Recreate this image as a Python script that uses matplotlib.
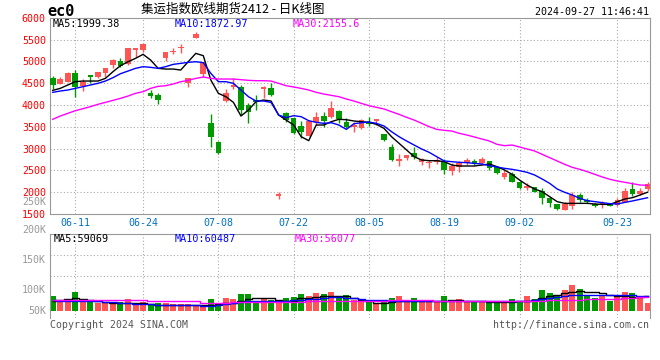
import matplotlib
matplotlib.use('Agg')
import matplotlib.pyplot as plt
import numpy as np

plt.rcParams['font.family'] = ['DejaVu Sans Mono', 'Noto Sans CJK SC']

# trading days shown, 06-05 .. 09-27
dates = ['06-05', '06-06', '06-07', '06-11', '06-12', '06-13', '06-14', '06-17', '06-18', '06-19',
         '06-20', '06-21', '06-24', '06-25', '06-26', '06-27', '06-28', '07-01', '07-02', '07-03',
         '07-04', '07-05', '07-08', '07-09', '07-10', '07-11', '07-12', '07-15', '07-16', '07-17',
         '07-18', '07-19', '07-22', '07-23', '07-24', '07-25', '07-26', '07-29', '07-30', '07-31',
         '08-01', '08-02', '08-05', '08-06', '08-07', '08-08', '08-09', '08-12', '08-13', '08-14',
         '08-15', '08-16', '08-19', '08-20', '08-21', '08-22', '08-23', '08-26', '08-27', '08-28',
         '08-29', '08-30', '09-02', '09-03', '09-04', '09-05', '09-06', '09-09', '09-10', '09-11',
         '09-12', '09-13', '09-18', '09-19', '09-20', '09-23', '09-24', '09-25', '09-26', '09-27']
date_ticks = ['06-11', '06-24', '07-08', '07-22', '08-05', '08-19', '09-02', '09-23']

opens = [4610, 4480, 4533, 4724, 4434, 4678, 4648, 4724, 4915, 5014,
         4930, 5267, 5251, 4274, 4228, 5083, 5205, 5305, 4510, 5542,
         4701, 3578, 3158, 4090, 4425, 4419, 3998, 4113, 4380, 4396,
         1930, 3807, 3693, 3517, 3296, 3616, 3754, 3731, 3869, 3601,
         3510, 3464, 3601, 3648, 3334, 3028, 2722, 2776, 2906, 2700,
         2670, 2710, 2700, 2493, 2585, 2661, 2715, 2661, 2715, 2570,
         2356, 2417, 2241, 2096, 2112, 2027, 1874, 1729, 1592, 1691,
         1936, 1821, 1712, 1738, 1712, 1706, 1783, 2066, 1959, 2066]
highs = [4663, 4640, 4747, 4801, 4587, 4678, 4747, 4839, 5045, 5068,
         5297, 5297, 5419, 4335, 4281, 5205, 5297, 5389, 4610, 5664,
         4992, 3792, 3180, 4365, 4610, 4457, 4037, 4228, 4442, 4495,
         2012, 3846, 3693, 3632, 3632, 3830, 3830, 4090, 3884, 3693,
         3601, 3670, 3731, 3670, 3334, 3097, 2868, 2852, 3028, 2791,
         2738, 2814, 2753, 2661, 2715, 2776, 2753, 2814, 2715, 2570,
         2509, 2470, 2264, 2203, 2127, 2089, 1882, 1729, 1783, 2012,
         1974, 1874, 1744, 1798, 1744, 1874, 2089, 2226, 2089, 2241]
lows = [4365, 4480, 4533, 4190, 4319, 4495, 4610, 4640, 4854, 4877,
        4915, 5106, 5221, 4166, 4014, 5014, 5160, 5198, 4419, 5526,
        4648, 3043, 2880, 4059, 4365, 3769, 3578, 3884, 4151, 4205,
        1844, 3616, 3326, 3234, 3296, 3540, 3502, 3693, 3578, 3464,
        3387, 3448, 3525, 3540, 3173, 2715, 2608, 2738, 2761, 2623,
        2562, 2646, 2417, 2394, 2470, 2623, 2623, 2623, 2509, 2417,
        2302, 2241, 2074, 2050, 1997, 1722, 1668, 1592, 1592, 1607,
        1783, 1744, 1668, 1645, 1683, 1691, 1783, 1920, 1936, 2035]
closes = [4457, 4587, 4724, 4419, 4533, 4640, 4747, 4839, 5022, 4892,
          5297, 5297, 5389, 4213, 4113, 5205, 5236, 5320, 4610, 5633,
          4992, 3272, 2891, 4266, 4440, 3884, 3846, 4075, 4396, 4228,
          1945, 3655, 3349, 3372, 3632, 3723, 3632, 3922, 3677, 3502,
          3525, 3655, 3555, 3660, 3196, 2738, 2761, 2852, 2814, 2753,
          2685, 2722, 2509, 2608, 2661, 2738, 2639, 2761, 2562, 2432,
          2447, 2241, 2089, 2142, 2012, 1859, 1744, 1607, 1729, 1936,
          1813, 1783, 1700, 1750, 1700, 1821, 2027, 1951, 2035, 2188]

ma5 = [4334, 4380, 4457, 4533, 4548, 4548, 4548, 4609, 4762, 4900,
       4991, 5068, 5160, 5030, 4839, 4823, 4823, 4800, 4991, 5182,
       5129, 4571, 4266, 4189, 4059, 3746, 3884, 4075, 4113, 4090,
       3769, 3654, 3540, 3272, 3181, 3540, 3540, 3616, 3670, 3662,
       3632, 3616, 3601, 3555, 3463, 3272, 3120, 2967, 2814, 2738,
       2722, 2722, 2700, 2623, 2600, 2600, 2600, 2623, 2646, 2585,
       2509, 2409, 2279, 2165, 2073, 2012, 1897, 1783, 1744, 1744,
       1744, 1744, 1729, 1721, 1721, 1783, 1844, 1874, 1935, 1999]
ma10 = [4289, 4319, 4342, 4380, 4418, 4457, 4495, 4548, 4625, 4716,
        4777, 4839, 4877, 4862, 4839, 4877, 4930, 4953, 4976, 4991,
        4969, 4724, 4533, 4533, 4495, 4342, 4189, 4090, 4090, 4059,
        3769, 3708, 3754, 3731, 3639, 3601, 3578, 3593, 3540, 3440,
        3570, 3593, 3609, 3578, 3517, 3387, 3272, 3173, 3081, 2990,
        2913, 2814, 2715, 2700, 2684, 2677, 2661, 2646, 2608, 2577,
        2547, 2524, 2493, 2455, 2394, 2302, 2203, 2073, 1997, 1935,
        1859, 1806, 1783, 1760, 1737, 1729, 1767, 1799, 1836, 1873]
ma30 = [3670, 3746, 3807, 3868, 3914, 3960, 4014, 4059, 4105, 4151,
        4204, 4266, 4304, 4380, 4426, 4441, 4480, 4533, 4564, 4609,
        4640, 4609, 4594, 4594, 4594, 4579, 4564, 4556, 4556, 4548,
        4495, 4441, 4411, 4380, 4342, 4289, 4250, 4220, 4189, 4136,
        4090, 4036, 3983, 3945, 3907, 3845, 3784, 3716, 3654, 3578,
        3502, 3440, 3418, 3402, 3349, 3311, 3265, 3219, 3173, 3097,
        3066, 3081, 3036, 2990, 2944, 2868, 2791, 2715, 2638, 2570,
        2524, 2470, 2409, 2348, 2295, 2256, 2226, 2195, 2165, 2156]

# volume, thousands of lots
vol = [61.2, 36.7, 33.9, 76.3, 39.6, 43.7, 32.6, 36.7, 32.6, 36.7,
       46.1, 32.6, 33.9, 28.6, 32.6, 32.6, 25.7, 25.7, 25.7, 20.4,
       20.4, 47.7, 20.4, 53.0, 47.7, 68.1, 68.1, 40.8, 47.7, 42.0,
       32.6, 51.8, 55.9, 68.1, 61.2, 72.2, 68.1, 77.5, 50.2, 64.1,
       43.7, 35.5, 43.7, 27.3, 33.9, 53.0, 61.2, 33.9, 53.0, 39.6,
       43.7, 39.6, 61.2, 39.6, 46.1, 39.6, 39.6, 33.9, 36.7, 33.9,
       33.9, 47.7, 33.9, 61.2, 47.7, 84.5, 73.4, 64.1, 84.5, 106.1,
       89.8, 64.1, 53.0, 61.2, 39.6, 64.1, 76.3, 72.2, 50.2, 32.6]
vma5 = [40.8, 42.2, 46.0, 50.3, 47.6, 42.2, 39.4, 34.0, 29.9, 29.9,
        29.9, 29.9, 29.9, 25.8, 23.1, 23.1, 23.1, 23.1, 23.1, 21.8,
        21.8, 23.1, 28.6, 31.3, 32.6, 39.4, 47.6, 50.3, 50.3, 50.3,
        43.5, 39.4, 40.8, 50.3, 53.0, 57.1, 59.8, 61.2, 61.2, 61.2,
        50.3, 43.5, 39.4, 29.9, 32.6, 36.7, 39.4, 40.8, 39.4, 39.4,
        39.4, 39.4, 40.8, 43.5, 43.5, 40.8, 39.4, 39.4, 36.7, 36.7,
        36.7, 36.7, 39.4, 39.4, 43.5, 50.3, 59.8, 63.9, 70.7, 77.5,
        80.2, 77.5, 74.8, 70.7, 63.9, 59.8, 59.8, 57.1, 57.1, 59.1]
vma10 = [42.2, 41.5, 41.0, 41.0, 41.0, 40.5, 39.4, 36.7, 34.0, 32.6,
         29.9, 28.6, 27.2, 25.8, 23.1, 21.8, 21.8, 21.8, 21.8, 21.8,
         20.4, 20.4, 23.1, 25.8, 29.9, 34.0, 39.4, 40.8, 40.8, 39.4,
         39.4, 40.8, 42.2, 43.5, 46.2, 49.0, 50.3, 57.1, 55.8, 53.0,
         50.3, 47.6, 44.9, 43.5, 42.2, 40.8, 39.4, 38.5, 38.0, 38.0,
         38.0, 38.0, 38.0, 38.0, 38.0, 38.0, 38.0, 38.0, 38.0, 38.0,
         38.0, 38.0, 38.0, 39.4, 42.2, 47.6, 53.0, 57.1, 61.2, 63.9,
         63.9, 63.9, 63.9, 63.9, 63.9, 63.9, 63.9, 62.0, 61.0, 60.5]
vma30 = [44.9, 44.9, 44.9, 44.9, 44.9, 44.9, 44.9, 44.9, 44.9, 44.9,
         44.9, 44.9, 44.9, 39.4, 39.4, 39.4, 39.4, 39.4, 39.4, 39.4,
         32.6, 32.6, 32.6, 31.3, 34.0, 34.0, 34.0, 34.0, 36.7, 36.7,
         36.7, 36.7, 36.7, 36.7, 39.4, 39.4, 39.4, 39.4, 39.4, 39.4,
         39.4, 39.4, 39.4, 39.4, 39.4, 42.2, 42.2, 42.2, 42.2, 42.2,
         42.2, 40.8, 40.8, 40.8, 40.8, 40.8, 40.8, 39.4, 39.4, 39.4,
         39.4, 39.4, 39.4, 39.4, 39.4, 39.4, 43.5, 43.5, 43.5, 43.5,
         43.5, 46.2, 46.2, 46.2, 46.2, 46.2, 50.0, 52.0, 54.0, 56.1]

RED = '#ff5555'
GREEN = '#009900'
GRID = '#aaaaaa'
EDGE = '#999999'

W, H = 660, 360
fig = plt.figure(figsize=(W / 100, H / 100), dpi=100)


def fx(px):
    return px / W


def fy(py):
    return 1 - py / H


ax = fig.add_axes([fx(50), fy(214), fx(649.5) - fx(50), fy(17.7) - fy(214)])
axv = fig.add_axes([fx(50), fy(318), fx(649.5) - fx(50), fy(234) - fy(318)])

o = np.array(opens)
c = np.array(closes)
x = np.arange(len(c))
cols = np.where(c >= o, RED, GREEN)
tick_idx = [dates.index(d) for d in date_ticks]

# grid
for v in range(2000, 6000, 500):
    ax.axhline(v, color=GRID, ls=(0, (1, 2)), lw=0.8, zorder=0)
for i in tick_idx:
    ax.axvline(i, color=GRID, ls=(0, (1, 2)), lw=0.8, zorder=0)
    axv.axvline(i, color=GRID, ls=(0, (1, 2)), lw=0.8, zorder=0)
for v in [143, 227]:
    axv.axhline(v, color=GRID, ls=(0, (1, 2)), lw=0.8, zorder=0)

# candles
ax.vlines(x, lows, highs, colors=cols, lw=1, zorder=2)
body = np.maximum(np.abs(c - o), 30)
mid = (c + o) / 2
ax.bar(x, body, bottom=mid - body / 2, width=0.75, color=cols, lw=0, zorder=3)

ax.plot(x, ma5, color='black', lw=1, zorder=4)
ax.plot(x, ma10, color='#0000ff', lw=1, zorder=4)
ax.plot(x, ma30, color='#ff00ff', lw=1, zorder=4)

ax.set_xlim(-0.36, 79.26)
ax.set_ylim(1500, 6000)
ax.set_yticks(range(1500, 6001, 500))
ax.tick_params(axis='y', length=0, pad=3, labelcolor='#ff0000', labelsize=7.2)
ax.set_xticks(tick_idx, date_ticks)
ax.tick_params(axis='x', length=0, pad=3, labelcolor='#0070c0', labelsize=7.2)
for s in ax.spines.values():
    s.set_color(EDGE)

# volume
axv.bar(x, vol, width=0.8, color=cols, lw=0, zorder=2)
axv.plot(x, vma5, color='black', lw=1, drawstyle='steps-mid', zorder=3)
axv.plot(x, vma10, color='#0000ff', lw=1, drawstyle='steps-mid', zorder=3)
axv.plot(x, vma30, color='#ff00ff', lw=1, drawstyle='steps-mid', zorder=3)
axv.set_xlim(-0.36, 79.26)
axv.set_ylim(-29.8, 312.9)
axv.set_xticks([])
axv.set_yticks([])
for s in axv.spines.values():
    s.set_color(EDGE)
axv.spines['bottom'].set_visible(False)

# texts
fig.text(fx(47), fy(11), 'ec0', fontsize=11, fontweight='bold', va='center')
fig.text(fx(141), fy(9), '集运指数欧线期货2412 - 日K线图', fontsize=9,
         family=['Noto Sans CJK SC', 'DejaVu Sans'], va='center')
fig.text(fx(649), fy(12), '2024-09-27 11:46:41', fontsize=7.2, ha='right', va='center')

fig.text(fx(53), fy(24), 'MA5:1999.38', fontsize=7.3, color='black', va='center')
fig.text(fx(175), fy(24), 'MA10:1872.97', fontsize=7.3, color='#0000ff', va='center')
fig.text(fx(293), fy(24), 'MA30:2155.6', fontsize=7.3, color='#ff00ff', va='center')

fig.text(fx(54), fy(239), 'MA5:59069', fontsize=7.3, color='black', va='center')
fig.text(fx(175), fy(239), 'MA10:60487', fontsize=7.3, color='#0000ff', va='center')
fig.text(fx(295), fy(239), 'MA30:56077', fontsize=7.3, color='#ff00ff', va='center')

for lab, py in [('250K', 202), ('200K', 230), ('150K', 260), ('100K', 290), ('50K', 311)]:
    fig.text(fx(46), fy(py), lab, fontsize=7.2, color=EDGE, ha='right', va='center')

fig.text(fx(50), fy(325), 'Copyright 2024 SINA.COM', fontsize=7.1, color='#555555', va='center')
fig.text(fx(649), fy(325), 'http://finance.sina.com.cn', fontsize=7.1, color='#555555',
         ha='right', va='center')

fig.savefig('out.png', dpi=100, facecolor='white')
